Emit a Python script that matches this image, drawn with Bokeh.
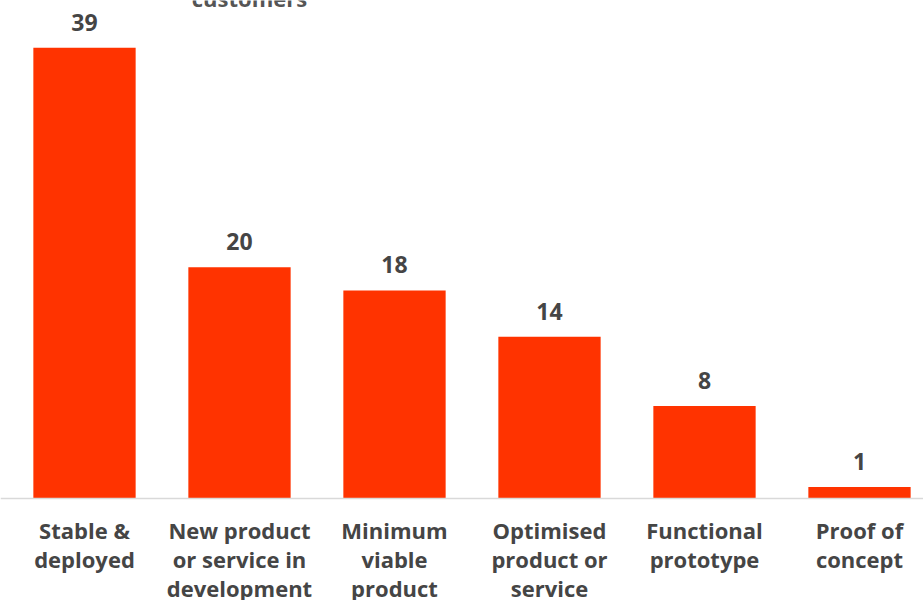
from bokeh.plotting import figure
from bokeh.models import Range1d, ColumnDataSource, Span, Label
from bokeh.core.properties import value
from bokeh.embed import file_html
from bokeh.resources import INLINE

categories = ["Stable &\ndeployed", "New product\nor service in\ndevelopment", "Minimum\nviable\nproduct",
              "Optimised\nproduct or\nservice", "Functional\nprototype", "Proof of\nconcept"]
counts = [39, 20, 18, 14, 8, 1]
title_tail = "customers"

BAR = "#ff3300"
TXT = "#454545"
FONT = "Open Sans"

W, H = 923, 600
px_per_cat = 155.0
px_per_unit = 11.56
base_px = 498

xs = list(range(len(counts)))
src = ColumnDataSource(dict(x=xs, top=counts, lab=[str(c) for c in counts], cat=categories,
                            zero=[0] * len(counts)))

x0 = -84 / px_per_cat
p = figure(width=W, height=H, output_backend="svg", toolbar_location=None,
           x_range=Range1d(x0, x0 + W / px_per_cat),
           y_range=Range1d(-(H - base_px) / px_per_unit, base_px / px_per_unit),
           min_border=0, outline_line_color=None)
p.axis.visible = False
p.grid.visible = False
p.background_fill_color = "white"
p.border_fill_color = "white"

p.vbar(x="x", top="top", bottom=0, width=0.66, source=src, fill_color=BAR, line_color=None)
p.add_layout(Span(location=0, dimension="width", line_color="#d9d9d9", line_width=1.5))

p.text(x="x", y="top", text="lab", source=src, text_align="center", text_baseline="bottom",
       y_offset=-17, text_font=value(FONT), text_font_style="bold", text_font_size="23px",
       text_color=TXT)
p.text(x="x", y="zero", text="cat", source=src, text_align="center", text_baseline="top",
       y_offset=16, text_font=value(FONT), text_font_style="bold", text_font_size="22px",
       text_color=TXT, text_line_height=0.98)

p.add_layout(Label(x=249, y=H + 3, x_units="screen", y_units="screen", text=title_tail,
                   text_align="center", text_baseline="alphabetic", text_font=FONT,
                   text_font_style="bold", text_font_size="22px", text_color="#555555"))

open("out.html", "w").write(file_html(p, INLINE))
